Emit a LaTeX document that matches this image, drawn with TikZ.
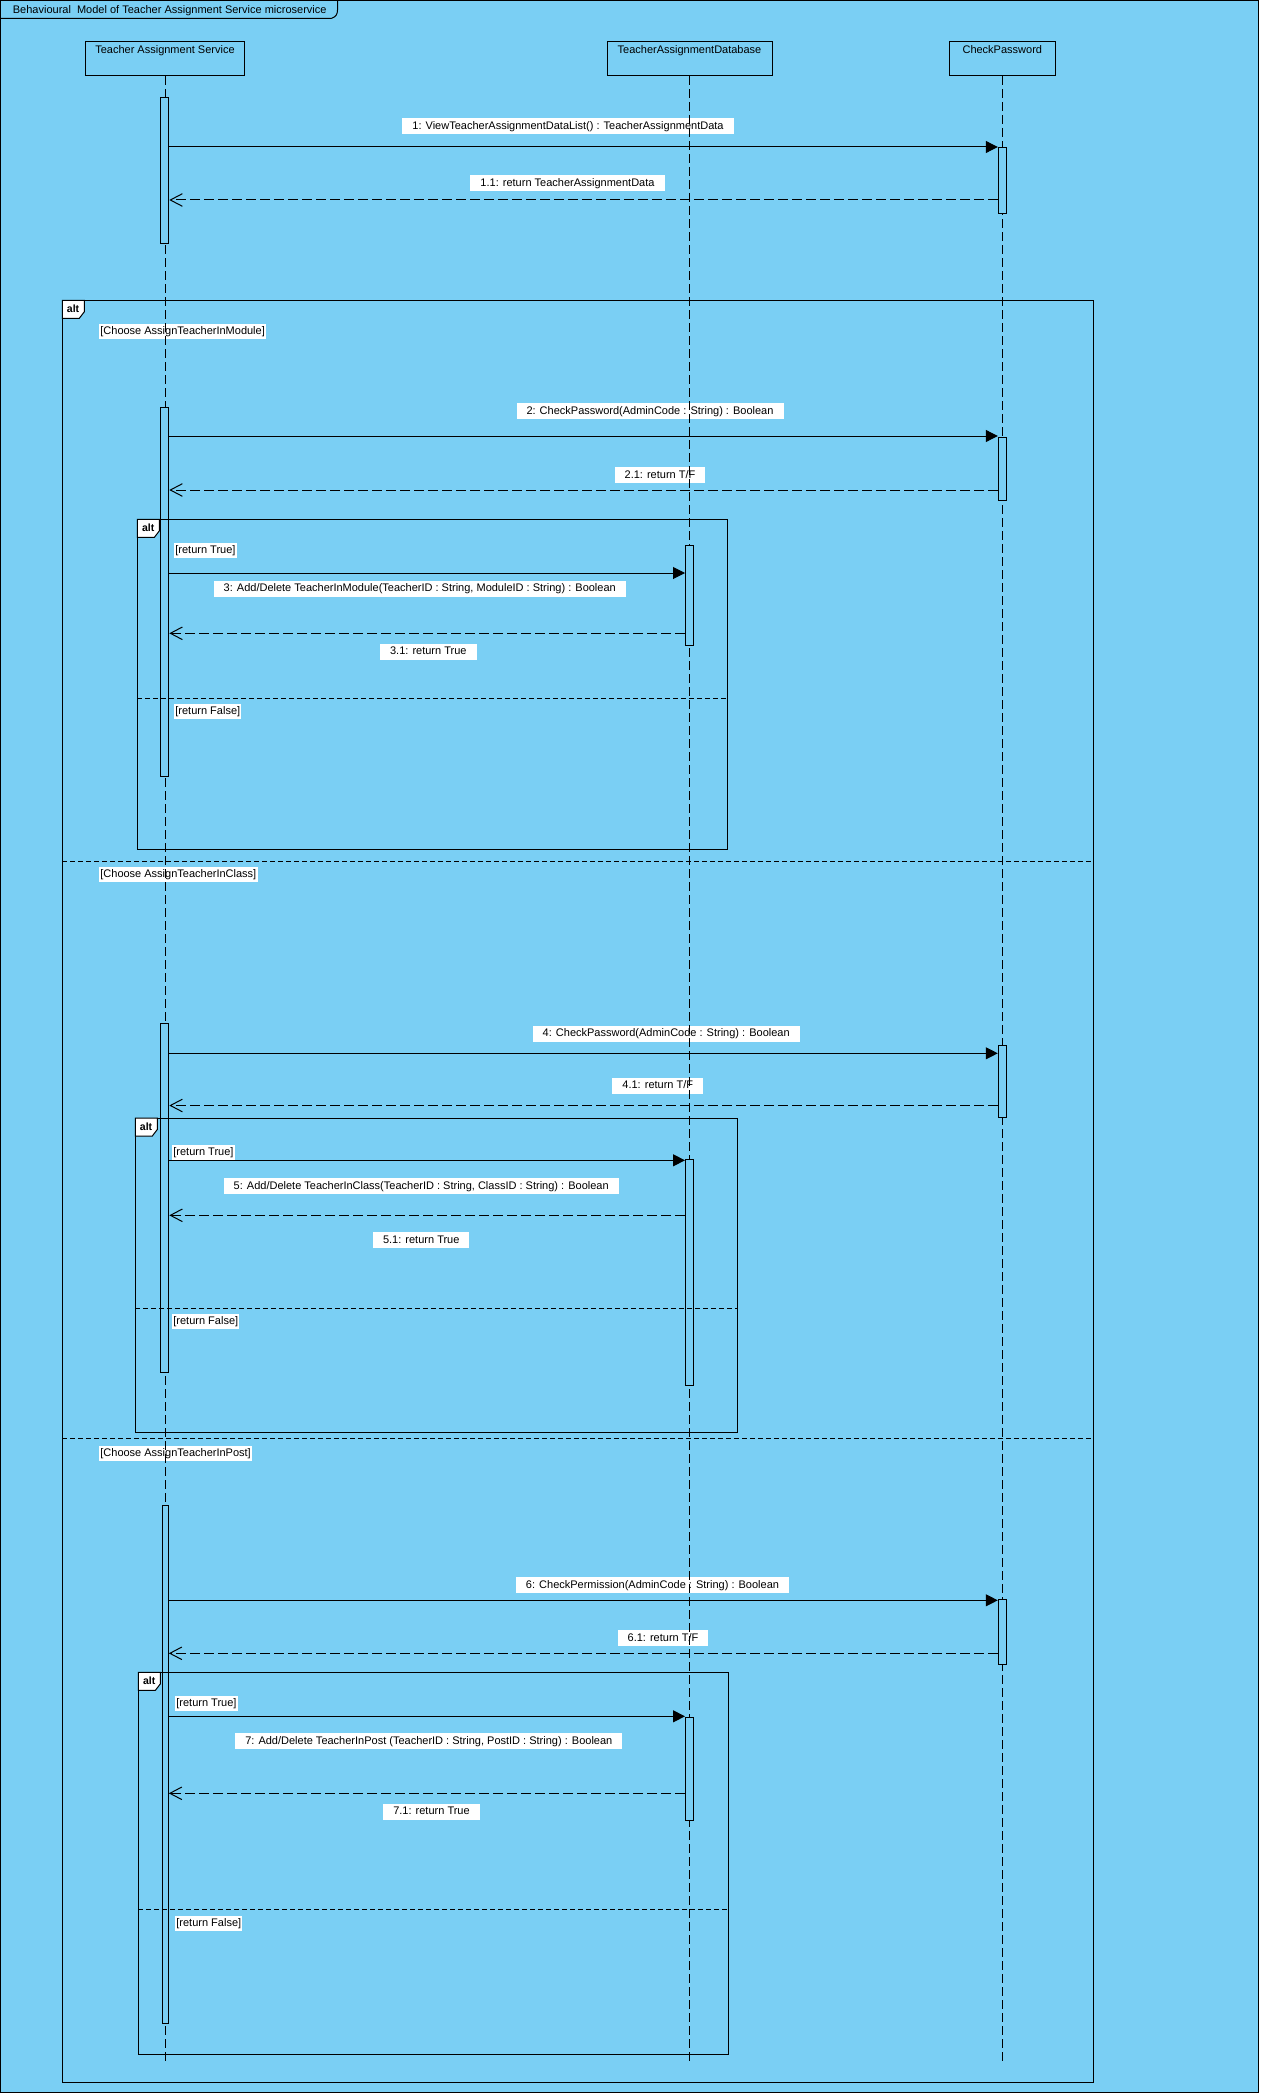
\documentclass[tikz,border=0pt]{standalone}
\usepackage{fontspec}
\setmainfont{Liberation Sans}
\usetikzlibrary{arrows.meta}
\definecolor{diagbg}{RGB}{122,207,244}
\begin{document}
\begin{tikzpicture}[x=1pt,y=-1pt,
  every node/.style={font=\fontsize{11}{13}\selectfont, text=black},
  head/.style={draw, line width=1pt, anchor=north, inner xsep=0pt, inner ysep=2pt,
    text height=10.3pt, text depth=19.7pt, minimum height=34pt},
  msglabel/.style={fill=white, inner xsep=10pt, inner ysep=0pt,
    text height=8.5pt, text depth=2.5pt, minimum height=16pt},
  guard/.style={fill=white, anchor=west, inner xsep=1.2pt, inner ysep=0pt,
    text height=8.5pt, text depth=2.5pt, minimum height=15pt},
  lifeline/.style={line width=1pt, dash pattern=on 9pt off 4pt},
  bar/.style={draw, fill=diagbg, line width=1pt, anchor=north, minimum width=8pt, inner sep=0pt},
  call/.style={line width=1pt, -{Triangle[length=12pt,width=12pt]}},
  reply/.style={line width=1pt, dash pattern=on 10pt off 4pt,
    -{Straight Barb[length=12pt,width=12.6pt]}},
  frame/.style={line width=1pt},
  divider/.style={line width=1pt, dash pattern=on 5pt off 3pt},
  tab/.style={draw, fill=white, line width=1pt},
  alttab/.pic={
    \draw[tab] (0,0) -- (22,0) -- (22,11.5) -- (17,18) -- (0,18) -- cycle;
    \node[font=\bfseries\fontsize{10.5}{12}\selectfont, inner sep=0pt] (-txt) at (10.8,8.8) {alt};
  }
]
\useasboundingbox (0,0) rectangle (1262,2095);
\fill[white] (0,0) rectangle (1262,2095);

% diagram frame and its title tab
\draw[frame, fill=diagbg] (0.5,0.5) rectangle (1258.5,2092.5);
\draw[frame] (0.5,18.3) -- (331.5,18.3) .. controls (336,17) and (337.5,14) .. (337.5,10) -- (337.5,0.5);
\node[anchor=base west, inner sep=0pt] (title) at (12.7,13.2)
  {Behavioural\ \ Model of Teacher Assignment Service microservice};

% lifeline heads
\node[head, minimum width=159pt] (tas) at (165,41) {Teacher Assignment Service};
\node[head, minimum width=165pt] (db) at (689.5,41) {TeacherAssignmentDatabase};
\node[head, minimum width=105.5pt] (cp) at (1002.3,41) {CheckPassword};

% message labels
\node[msglabel] (l1)  at (568,126.5) {1: ViewTeacherAssignmentDataList() : TeacherAssignmentData};
\node[msglabel] (l11) at (567.5,183.3) {1.1: return TeacherAssignmentData};
\node[msglabel] (l2)  at (650,411.3) {2: CheckPassword(AdminCode : String) : Boolean};
\node[msglabel] (l21) at (660,475) {2.1: return T/F};
\node[msglabel] (l3)  at (419.75,588.5) {3: Add/Delete TeacherInModule(TeacherID : String, ModuleID : String) : Boolean};
\node[msglabel] (l31) at (428.3,651.5) {3.1: return True};
\node[msglabel] (l4)  at (666.2,1033.8) {4: CheckPassword(AdminCode : String) : Boolean};
\node[msglabel] (l41) at (657.8,1085.7) {4.1: return T/F};
\node[msglabel] (l5)  at (421.2,1186.3) {5: Add/Delete TeacherInClass(TeacherID : String, ClassID : String) : Boolean};
\node[msglabel] (l51) at (421.25,1240) {5.1: return True};
\node[msglabel] (l6)  at (652.5,1585) {6: CheckPermission(AdminCode : String) : Boolean};
\node[msglabel] (l61) at (663,1638.3) {6.1: return T/F};
\node[msglabel] (l7)  at (428.8,1741.2) {7: Add/Delete TeacherInPost (TeacherID : String, PostID : String) : Boolean};
\node[msglabel] (l71) at (431.5,1811.7) {7.1: return True};

% guards
\node[guard] (g1) at (99,331) {[Choose AssignTeacherInModule]};
\node[guard] (g2) at (99,874.4) {[Choose AssignTeacherInClass]};
\node[guard] (g3) at (99,1453) {[Choose AssignTeacherInPost]};
\node[guard] (g1t) at (174,550.5) {[return True]};
\node[guard] (g1f) at (174,711.5) {[return False]};
\node[guard] (g2t) at (172,1152) {[return True]};
\node[guard] (g2f) at (172,1321) {[return False]};
\node[guard] (g3t) at (175,1703) {[return True]};
\node[guard] (g3f) at (175,1923.4) {[return False]};

% lifelines
\coordinate (tasend) at (165,2063);
\coordinate (dbend) at (689.5,2063);
\coordinate (cpend) at (1002.3,2063);
\draw[lifeline] (tas.south) -- (tasend);
\draw[lifeline] (db.south) -- (dbend);
\draw[lifeline] (cp.south) -- (cpend);

% activation bars
\node[bar, minimum height=145.5pt] (a1) at (164.8,97.5) {};
\node[bar, minimum height=368.7pt] (a2) at (164.8,407) {};
\node[bar, minimum height=348.8pt] (a3) at (164.8,1022.7) {};
\node[bar, minimum height=517.7pt, minimum width=6pt] (a4) at (165.3,1505.3) {};
\node[bar, minimum height=66pt] (c1) at (1002.3,147) {};
\node[bar, minimum height=63pt] (c2) at (1002.3,437) {};
\node[bar, minimum height=71.4pt] (c3) at (1002.3,1045.3) {};
\node[bar, minimum height=65.5pt] (c4) at (1002.3,1598.5) {};
\node[bar, minimum height=100pt] (d1) at (689.5,545.3) {};
\node[bar, minimum height=226.3pt] (d2) at (689.5,1158.7) {};
\node[bar, minimum height=102.7pt] (d3) at (689.5,1717.3) {};

% messages
\draw[call]  (a1.east |- 0,147)    -- (c1.west |- 0,147);
\draw[reply] (c1.west |- 0,200)    -- (a1.east |- 0,200);
\draw[call]  (a2.east |- 0,436)    -- (c2.west |- 0,436);
\draw[reply] (c2.west |- 0,490)    -- (a2.east |- 0,490);
\draw[call]  (a2.east |- 0,573)    -- (d1.west |- 0,573);
\draw[reply] (d1.west |- 0,633.3)  -- (a2.east |- 0,633.3);
\draw[call]  (a3.east |- 0,1053.3) -- (c3.west |- 0,1053.3);
\draw[reply] (c3.west |- 0,1105.5) -- (a3.east |- 0,1105.5);
\draw[call]  (a3.east |- 0,1160.3) -- (d2.west |- 0,1160.3);
\draw[reply] (d2.west |- 0,1215.3) -- (a3.east |- 0,1215.3);
\draw[call]  (a4.east |- 0,1600.3) -- (c4.west |- 0,1600.3);
\draw[reply] (c4.west |- 0,1653.3) -- (a4.east |- 0,1653.3);
\draw[call]  (a4.east |- 0,1716.3) -- (d3.west |- 0,1716.3);
\draw[reply] (d3.west |- 0,1793.3) -- (a4.east |- 0,1793.3);

% combined fragments
\draw[frame] (62.3,300.3) rectangle (1093.7,2082.3);
\draw[divider] (62.3,861.7) -- (1093.7,861.7);
\draw[divider] (62.3,1438.3) -- (1093.7,1438.3);
\pic (t0) at (62.3,300.3) {alttab};

\draw[frame] (137.4,519.3) rectangle (727,849.3);
\draw[divider] (137.4,698) -- (727,698);
\pic (t1) at (137.4,519.3) {alttab};

\draw[frame] (135.3,1118) rectangle (737.5,1432.5);
\draw[divider] (135.3,1308.7) -- (737.5,1308.7);
\pic (t2) at (135.3,1118) {alttab};

\draw[frame] (138.4,1672.3) rectangle (728.6,2054);
\draw[divider] (138.4,1909.8) -- (728.6,1909.8);
\pic (t3) at (138.4,1672.3) {alttab};
\end{tikzpicture}
\end{document}
